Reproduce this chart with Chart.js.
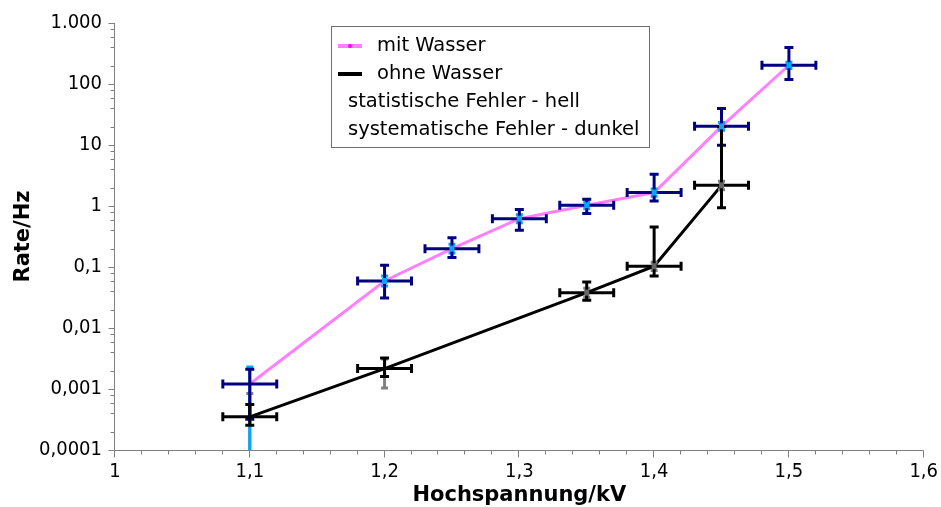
<!DOCTYPE html>
<html>
<head>
<meta charset="utf-8">
<script src="https://cdn.jsdelivr.net/npm/chart.js@4.4.1/dist/chart.umd.min.js"></script>
<style>
  html, body { margin: 0; padding: 0; background: #fff; }
</style>
</head>
<body>
<canvas id="rateChart" width="941" height="507"></canvas>
<script>
// Hochspannung (kV) und Zählrate (Hz), mit Fehlerbalken
const mitX = [1.1, 1.2, 1.25, 1.3, 1.35, 1.4, 1.45, 1.5];
const mitRate = [0.00121, 0.059, 0.2, 0.62, 1.03, 1.66, 20.2, 203];
const mitSysLow = [0.00032, 0.031, 0.143, 0.40, 0.75, 1.21, 9.9, 119];
const mitSysHigh = [0.0021, 0.107, 0.303, 0.873, 1.29, 3.31, 39.5, 395];
const mitStatLow = [0.00005, 0.049, 0.17, 0.53, 0.9, 1.45, 17.5, 180];
const mitStatHigh = [0.0023, 0.071, 0.235, 0.72, 1.17, 1.9, 23.3, 228];
const mitXErr = [0.02, 0.02, 0.02, 0.02, 0.02, 0.02, 0.02, 0.02];

const ohneX = [1.1, 1.2, 1.35, 1.4, 1.45];
const ohneRate = [0.00035, 0.00216, 0.038, 0.103, 2.18];
const ohneSysLow = [0.000254, 0.00161, 0.0284, 0.0711, 0.94];
const ohneSysHigh = [0.000555, 0.00322, 0.0568, 0.453, 20];
const ohneStatLow = [0.00005, 0.00104, 0.032, 0.088, 1.85];
const ohneStatHigh = [0.00084, 0.0031, 0.045, 0.12, 2.55];
const ohneXErr = [0.02, 0.02, 0.02, 0.02, 0.02];

const xTickValues = [1, 1.1, 1.2, 1.3, 1.4, 1.5, 1.6];
const xTickLabels = ['1', '1,1', '1,2', '1,3', '1,4', '1,5', '1,6'];
const yTickValues = [0.0001, 0.001, 0.01, 0.1, 1, 10, 100, 1000];
const yTickLabels = ['0,0001', '0,001', '0,01', '0,1', '1', '10', '100', '1.000'];

const legendTexts = ['mit Wasser', 'ohne Wasser', 'statistische Fehler - hell', 'systematische Fehler - dunkel'];

const TICK_FONT = "'DejaVu Sans Condensed', 'DejaVu Sans', sans-serif";
const FONT = "'DejaVu Sans', sans-serif";
const PINK = '#ff80ff';
const NAVY = '#000080';
const LIGHTBLUE = '#00a8ff';
const GRAY = '#808080';
const AXIS = '#808080';

function toPoints(xs, ys) {
  return xs.map((x, i) => ({ x: x, y: ys[i] }));
}

// Achsenlinien und Teilstriche (Haupt- und Nebenstriche)
const axisLines = {
  id: 'axisLines',
  beforeDatasetsDraw(chart) {
    const { ctx, chartArea: a, scales: { x, y } } = chart;
    ctx.save();
    ctx.strokeStyle = AXIS;
    ctx.lineWidth = 1;
    ctx.beginPath();
    const ax = Math.round(a.left) - 0.5;
    const ay = Math.round(a.bottom) + 0.5;
    ctx.moveTo(ax, a.top);
    ctx.lineTo(ax, ay);
    ctx.lineTo(a.right, ay);
    // x: Hauptstriche alle 0,1, Nebenstriche alle 0,02
    for (let k = 0; k <= 30; k++) {
      const v = 1 + k * 0.02;
      const px = Math.round(x.getPixelForValue(v)) - 0.5;
      const len = k % 5 === 0 ? 7 : 4;
      ctx.moveTo(px, ay);
      ctx.lineTo(px, ay + len);
    }
    // y: Dekaden und Nebenstriche bei 2, 4, 6, 8
    yTickValues.forEach((d, i) => {
      const py = Math.round(y.getPixelForValue(d)) + 0.5;
      ctx.moveTo(ax, py);
      ctx.lineTo(ax - 6, py);
      if (i < yTickValues.length - 1) {
        [2, 4, 6, 8].forEach(m => {
          const pm = Math.round(y.getPixelForValue(d * m)) + 0.5;
          ctx.moveTo(ax, pm);
          ctx.lineTo(ax - 4, pm);
        });
      }
    });
    ctx.stroke();
    ctx.restore();
  }
};

function vBar(ctx, px, pLo, pHi, cap) {
  ctx.moveTo(px, pLo);
  ctx.lineTo(px, pHi);
  ctx.moveTo(px - cap, pLo);
  ctx.lineTo(px + cap, pLo);
  ctx.moveTo(px - cap, pHi);
  ctx.lineTo(px + cap, pHi);
}

function hBar(ctx, pLo, pHi, py, cap) {
  ctx.moveTo(pLo, py);
  ctx.lineTo(pHi, py);
  ctx.moveTo(pLo, py - cap);
  ctx.lineTo(pLo, py + cap);
  ctx.moveTo(pHi, py - cap);
  ctx.lineTo(pHi, py + cap);
}

function drawStat(ctx, x, y, xs, lows, highs, color) {
  ctx.strokeStyle = color;
  ctx.beginPath();
  xs.forEach((v, i) => {
    vBar(ctx, x.getPixelForValue(v), y.getPixelForValue(lows[i]), y.getPixelForValue(highs[i]), 3.5);
  });
  ctx.stroke();
}

function drawSys(ctx, x, y, xs, rates, lows, highs, xErr, color) {
  ctx.strokeStyle = color;
  ctx.beginPath();
  xs.forEach((v, i) => {
    const px = x.getPixelForValue(v);
    const py = y.getPixelForValue(rates[i]);
    vBar(ctx, px, y.getPixelForValue(lows[i]), y.getPixelForValue(highs[i]), 4.5);
    hBar(ctx, x.getPixelForValue(v - xErr[i]), x.getPixelForValue(v + xErr[i]), py, 4.5);
  });
  ctx.stroke();
}

function drawMarks(ctx, x, y, xs, rates, color) {
  ctx.fillStyle = color;
  xs.forEach((v, i) => {
    const px = x.getPixelForValue(v);
    const py = y.getPixelForValue(rates[i]);
    ctx.fillRect(px - 2.5, py - 3, 5, 6);
  });
}

// Fehlerbalken: statistisch (hell) und systematisch (dunkel)
const errorBars = {
  id: 'errorBars',
  afterDatasetsDraw(chart) {
    const { ctx, chartArea: a, scales: { x, y } } = chart;
    ctx.save();
    ctx.beginPath();
    ctx.rect(a.left, a.top - 5, a.width, a.height + 5);
    ctx.clip();
    ctx.lineWidth = 3;
    ctx.lineCap = 'butt';
    drawStat(ctx, x, y, ohneX, ohneStatLow, ohneStatHigh, GRAY);
    drawStat(ctx, x, y, mitX, mitStatLow, mitStatHigh, LIGHTBLUE);
    drawSys(ctx, x, y, mitX, mitRate, mitSysLow, mitSysHigh, mitXErr, NAVY);
    drawSys(ctx, x, y, ohneX, ohneRate, ohneSysLow, ohneSysHigh, ohneXErr, '#000');
    drawMarks(ctx, x, y, mitX.slice(1), mitRate.slice(1), LIGHTBLUE);
    drawMarks(ctx, x, y, ohneX.slice(2), ohneRate.slice(2), '#666');
    ctx.restore();
  }
};

// Legende im Diagramm
const boxLegend = {
  id: 'boxLegend',
  afterDraw(chart) {
    const ctx = chart.ctx;
    ctx.save();
    ctx.strokeStyle = '#6e6e6e';
    ctx.lineWidth = 1;
    ctx.strokeRect(331.5, 26.5, 318, 121);
    const rows = [46, 74, 102, 130];
    const marks = [[PINK, '#ff00ff'], ['#000', '#000']];
    marks.forEach((m, i) => {
      ctx.strokeStyle = m[0];
      ctx.lineWidth = 4;
      ctx.beginPath();
      ctx.moveTo(338, rows[i]);
      ctx.lineTo(362, rows[i]);
      ctx.stroke();
      ctx.fillStyle = m[1];
      ctx.beginPath();
      ctx.arc(350, rows[i], 2, 0, Math.PI * 2);
      ctx.fill();
    });
    ctx.fillStyle = '#000';
    ctx.font = '19.5px ' + FONT;
    ctx.textBaseline = 'middle';
    legendTexts.forEach((t, i) => {
      ctx.fillText(t, i < 2 ? 377 : 348, rows[i]);
    });
    ctx.restore();
  }
};

const ctx = document.getElementById('rateChart').getContext('2d');
const rateChart = new Chart(ctx, {
  type: 'line',
  data: {
    datasets: [
      {
        label: legendTexts[0],
        data: toPoints(mitX, mitRate),
        borderColor: PINK,
        borderWidth: 3,
        pointRadius: 0,
        tension: 0
      },
      {
        label: legendTexts[1],
        data: toPoints(ohneX, ohneRate),
        borderColor: '#000',
        borderWidth: 3,
        pointRadius: 0,
        tension: 0
      }
    ]
  },
  options: {
    responsive: false,
    animation: false,
    layout: { padding: { top: 23, right: 16, left: 0, bottom: 0 } },
    plugins: {
      legend: { display: false },
      tooltip: { enabled: false }
    },
    scales: {
      x: {
        type: 'linear',
        min: 1,
        max: 1.6,
        afterBuildTicks: axis => { axis.ticks = xTickValues.map(v => ({ value: v })); },
        afterFit: scale => { scale.height = 57; },
        grid: { display: false, tickLength: 7 },
        border: { display: false },
        ticks: {
          callback: (v, i) => xTickLabels[i],
          color: '#000',
          font: { family: TICK_FONT, size: 20 },
          padding: 3,
          maxRotation: 0,
          autoSkip: false
        },
        title: {
          display: true,
          text: 'Hochspannung/kV',
          color: '#000',
          font: { family: FONT, size: 21, weight: 'bold', lineHeight: 1.05 },
          padding: { top: 0, bottom: 0 }
        }
      },
      y: {
        type: 'logarithmic',
        min: 0.0001,
        max: 1000,
        afterBuildTicks: axis => { axis.ticks = yTickValues.map(v => ({ value: v })); },
        afterFit: scale => { scale.width = 115; },
        grid: { display: false, tickLength: 6 },
        border: { display: false },
        ticks: {
          callback: (v, i) => yTickLabels[i],
          color: '#000',
          font: { family: TICK_FONT, size: 20 },
          padding: 7,
          autoSkip: false
        },
        title: {
          display: true,
          text: 'Rate/Hz',
          color: '#000',
          font: { family: FONT, size: 21, weight: 'bold', lineHeight: 1.2 },
          padding: { top: 11, bottom: 0 }
        }
      }
    }
  },
  plugins: [axisLines, errorBars, boxLegend]
});
</script>
</body>
</html>
